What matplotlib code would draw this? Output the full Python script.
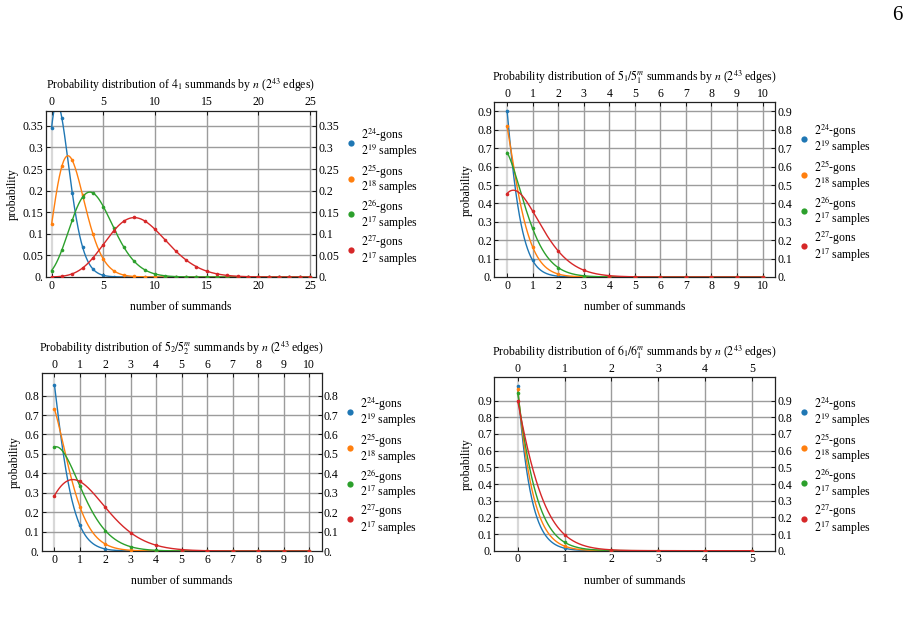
import math
import numpy as np
import matplotlib
matplotlib.use("Agg")
import matplotlib.pyplot as plt
from matplotlib.lines import Line2D
from matplotlib.ticker import FuncFormatter

plt.rcParams['font.family'] = ['Liberation Serif', 'DejaVu Serif']
plt.rcParams['mathtext.fontset'] = 'stix'

# Data: probability of k summands, k = 0, 1, 2, ...
knots = ['4_1', '5_1/5_1^m', '5_2/5_2^m', '6_1/6_1^m']
gons_exp = [24, 25, 26, 27]
samples_exp = [19, 18, 17, 17]
colors = ['#1f77b4', '#ff7f0e', '#2ca02c', '#d62728']

p_4_1 = [
    [0.345, 0.367, 0.195, 0.069, 0.018, 0.004, 0.0007, 0.0001],
    [0.123, 0.257, 0.270, 0.189, 0.099, 0.042, 0.015, 0.0045, 0.0012, 0.0003],
    [0.015, 0.063, 0.132, 0.185, 0.194, 0.163, 0.114, 0.069, 0.036, 0.017,
     0.007, 0.0027, 0.001, 0.0003],
    [0.0002, 0.0017, 0.0074, 0.021, 0.044, 0.075, 0.107, 0.129, 0.138, 0.130,
     0.110, 0.085, 0.060, 0.040, 0.024, 0.0136, 0.0072, 0.0036, 0.0017,
     0.0008, 0.0003, 0.0001],
]
p_5_1 = [
    [0.905, 0.090, 0.0045, 0.0002],
    [0.819, 0.164, 0.016, 0.0011],
    [0.677, 0.264, 0.051, 0.0067, 0.0007],
    [0.454, 0.359, 0.142, 0.037, 0.0074, 0.0012, 0.0002],
]
p_5_2 = [
    [0.856, 0.133, 0.0103, 0.0005],
    [0.732, 0.228, 0.036, 0.0037, 0.0003],
    [0.535, 0.335, 0.105, 0.022, 0.0034, 0.0004],
    [0.285, 0.358, 0.225, 0.094, 0.0295, 0.0074, 0.0015, 0.0003],
]
p_6_1 = [
    [0.985, 0.015, 0.0001],
    [0.972, 0.0276, 0.0004],
    [0.948, 0.0506, 0.0014],
    [0.898, 0.0966, 0.0052, 0.0002],
]

x_ticks = [list(range(0, 26, 5)), list(range(11)), list(range(11)), list(range(6))]
y_ticks = [np.arange(0, 0.351, 0.05), np.arange(0, 0.91, 0.1),
           np.arange(0, 0.81, 0.1), np.arange(0, 0.91, 0.1)]
y_top = [0.385, 0.95, 0.915, 1.04]
x_pad = [0.57, 0.5, 0.5, 0.5]
all_data = [p_4_1, p_5_1, p_5_2, p_6_1]

# layout in pixels: (left, top, right, bottom), legend dot x, first dot y
W, H = 915, 618
boxes = [(45.7, 110.7, 316, 277), (494.3, 102.3, 775.3, 277),
         (41.7, 373.3, 321.7, 551), (494.3, 377.3, 775.3, 550.7)]
legend_xy = [(351, 142.7), (804, 139), (350, 412), (804, 411.7)]
legend_step = 35.8

fig = plt.figure(figsize=(W / 100, H / 100), dpi=100)


def yfmt(v, pos):
    if abs(v) < 1e-9:
        return '0.'
    return f'{v:.2f}'.rstrip('0')


lgamma = np.vectorize(math.lgamma)

for i, data in enumerate(all_data):
    l, t, r, b = boxes[i]
    ax = fig.add_axes([l / W, 1 - b / H, (r - l) / W, (b - t) / H])
    xmax = x_ticks[i][-1]
    ax.set_xlim(-x_pad[i], xmax + x_pad[i])
    ax.set_ylim(0, y_top[i])

    # grid
    for xv in x_ticks[i]:
        if xv == 0:
            ax.axvline(xv, color='#d8d8d8', lw=1.6, zorder=0)
        else:
            ax.axvline(xv, color='#9c9c9c', lw=1.0, zorder=0)
    for yv in y_ticks[i][1:]:
        ax.axhline(yv, color='#9c9c9c', lw=1.0, zorder=0)

    # continuous Poisson-type curve fitted to the points (lambda = mean)
    xs = np.linspace(0, xmax, 800)
    for j, vals in enumerate(data):
        k = np.arange(len(vals))
        v = np.array(vals)
        lam = (k * v).sum() / v.sum()
        curve = np.exp(-lam + xs * np.log(lam) - lgamma(xs + 1))
        ax.plot(xs, curve, color=colors[j], lw=1.0, zorder=2 + j)
        px = np.arange(xmax + 1)
        py = np.zeros(xmax + 1)
        n = min(len(vals), xmax + 1)
        py[:n] = v[:n]
        ax.plot(px, py, 'o', color=colors[j], ms=2.6, mec='none', zorder=2 + j)

    ax.set_xticks(x_ticks[i])
    ax.set_yticks(y_ticks[i])
    ax.yaxis.set_major_formatter(FuncFormatter(yfmt))
    ax.tick_params(direction='in', length=3, width=0.6, labelsize=8.5, pad=2,
                   top=True, right=True, labeltop=True, labelright=True)
    ax.tick_params(axis='y', pad=1.5)
    for s in ax.spines.values():
        s.set_linewidth(0.9)
        s.set_color('#222222')

    ax.set_xlabel('number of summands', fontsize=8.5, labelpad=7)
    ax.set_ylabel('probability', fontsize=8.5, labelpad=3)
    ax.annotate(f'Probability distribution of ${knots[i]}$ summands by $n$ ($2^{{43}}$ edges)',
                xy=(0.5, 1), xycoords='axes fraction', xytext=(0, 15.5),
                textcoords='offset points', ha='center', va='baseline', fontsize=8.5)

    # legend
    dx, dy = legend_xy[i]
    for j in range(4):
        yy = dy + j * legend_step
        fig.add_artist(Line2D([dx / W], [1 - yy / H], marker='o', ms=4.5,
                              color=colors[j], mec='none', transform=fig.transFigure))
        fig.text((dx + 10) / W, 1 - (yy + 0.5) / H,
                 f'$2^{{{gons_exp[j]}}}$-gons\n$2^{{{samples_exp[j]}}}$ samples',
                 fontsize=8.5, va='center', linespacing=0.95)

fig.text(897 / W, 1 - 15 / H, '6', fontsize=15, ha='center', va='center')

fig.savefig('out.png', dpi=100)
